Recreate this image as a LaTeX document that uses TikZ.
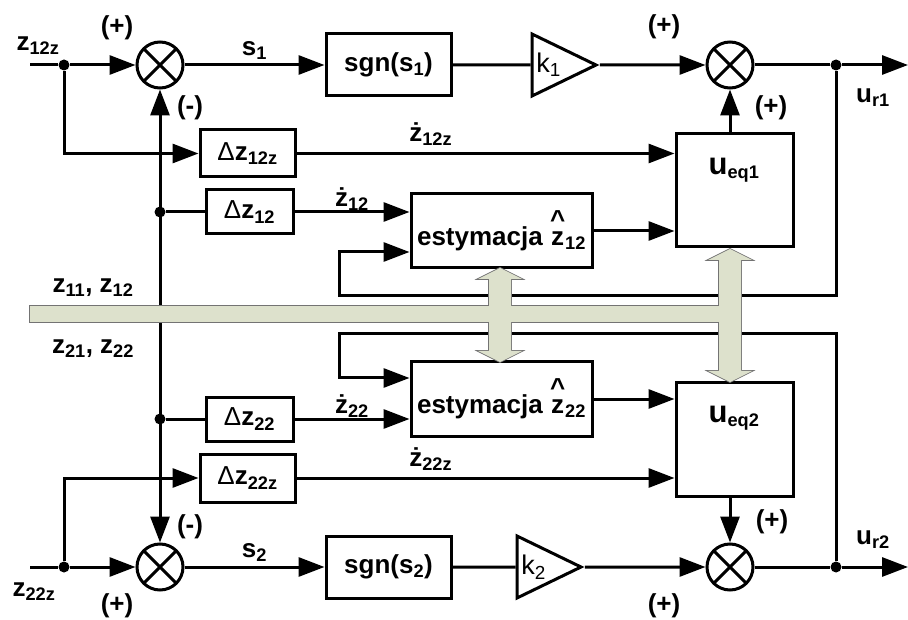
\documentclass[tikz,border=0pt]{standalone}
\usepackage{fontspec}
\setmainfont{Liberation Sans}
\usetikzlibrary{shapes.geometric, positioning, arrows.meta, calc}
\definecolor{busgreen}{HTML}{DDE1CC}
\newcommand{\zhat}{\shortstack{\textasciicircum\\z}}
\tikzset{
  block/.style={rectangle, draw=black, line width=3pt, minimum width=125pt, minimum height=62pt, inner sep=2pt},
  deltabox/.style={rectangle, draw=black, line width=3pt, minimum width=87pt, minimum height=44pt, inner sep=2pt},
  sum/.style={circle, draw=black, line width=3pt, minimum size=46pt, inner sep=0pt,
    path picture={\draw[line width=3pt] (path picture bounding box.north west) -- (path picture bounding box.south east)
      (path picture bounding box.north east) -- (path picture bounding box.south west);}},
  gain/.style={isosceles triangle, isosceles triangle stretches, draw=black, line width=3pt, minimum width=62pt, minimum height=64pt, inner sep=0pt, font=\fontsize{27}{28}\selectfont},
  joint/.style={circle, fill=black, inner sep=0pt, minimum size=11pt},
  arrow/.style={line width=3pt, -{Triangle[length=26pt, width=19pt]}},
  wire/.style={line width=3pt},
  busline/.style={draw=black!55, line width=1.6pt},
  bus/.style={fill=busgreen}
}
\begin{document}
\begin{tikzpicture}[x=1pt, y=-1pt, every node/.style={font=\fontsize{26}{28}\selectfont\bfseries}]
        \useasboundingbox (0,0) rectangle (908,620);
        % upper channel
        \coordinate (in1) at (30,65);
        \node (tap1) [joint] at (64,65) {};
        \node (sum1) [sum] at (160,65) {};
        \node (sgn1) [block, right=140pt of sum1] {sgn(s\textsubscript{1})};
        \node (k1) [gain, right=78pt of sgn1] {k\textsubscript{1}};
        \node (sum3) [sum] at (730,65) {};
        \node (tap3) [joint] at (836,65) {};
        \coordinate (out1) at (908,65);
        \node (dz12z) [deltabox, minimum width=95pt, minimum height=47pt] at (247.5,153.5) {{\mdseries Δ}z\textsubscript{12z}};
        \node (tap2) [joint] at (160,212) {};
        \node (dz12) [deltabox] at (249.5,212) {{\mdseries Δ}z\textsubscript{12}};
        \node (est1) [block, minimum width=181pt, minimum height=74pt] at (501.5,231) {estymacja \zhat\textsubscript{12}};
        \node (ueq1) [block, minimum width=117pt, minimum height=113pt] at (734.5,190.5) {};
        \node (ueq1txt) at (734,170) {{\fontsize{31}{31}\selectfont u}\textsubscript{eq1}};

        % lower channel
        \coordinate (in2) at (30,567);
        \node (tap4) [joint] at (64,567) {};
        \node (sum2) [sum] at (160,567) {};
        \node (sgn2) [block, right=140pt of sum2] {sgn(s\textsubscript{2})};
        \node (k2) [gain, right=63pt of sgn2] {k\textsubscript{2}};
        \node (sum4) [sum] at (730,567) {};
        \node (tap6) [joint] at (836,567) {};
        \coordinate (out2) at (908,567);
        \node (dz22z) [deltabox, minimum width=95pt, minimum height=48pt] at (247.5,478) {{\mdseries Δ}z\textsubscript{22z}};
        \node (tap5) [joint] at (160,419) {};
        \node (dz22) [deltabox] at (249.5,419) {{\mdseries Δ}z\textsubscript{22}};
        \node (est2) [block, minimum width=181pt, minimum height=74pt] at (501.5,399) {estymacja \zhat\textsubscript{22}};
        \node (ueq2) [block, minimum width=117pt, minimum height=113pt] at (734.5,439.5) {};
        \node (ueq2txt) at (734,418) {{\fontsize{31}{31}\selectfont u}\textsubscript{eq2}};

        % signs and signal names
        \node (p1) at (117,28) {(+)};
        \node (m1) at (190,108) {(-)};
        \node (p3) at (664,27) {(+)};
        \node (p4) at (771,108) {(+)};
        \node (m2) at (190,527) {(-)};
        \node (p2) at (117,606) {(+)};
        \node (p6) at (772,522) {(+)};
        \node (p5) at (664,606) {(+)};
        \node (z12ztxt) at (38,46) {z\textsubscript{12z}};
        \node (z22ztxt) at (34,592) {z\textsubscript{22z}};
        \node (z1txt) at (93,288) {z\textsubscript{11}, z\textsubscript{12}};
        \node (z2txt) at (93,349) {z\textsubscript{21}, z\textsubscript{22}};
        \node (ur1txt) at (873,98) {u\textsubscript{r1}};
        \node (ur2txt) at (873,540) {u\textsubscript{r2}};

        \coordinate (busmid) at (160,314);
        \coordinate (fb1) at (339,296);
        \coordinate (fb2) at (339,334);

        \draw [wire] (in1) -- (tap1);
        \draw [arrow] (tap1) -- (sum1);
        \draw [arrow] (sum1) -- node[above=4pt, inner sep=0pt] (s1txt) {s\textsubscript{1}} (sgn1);
        \draw [wire] (sgn1) -- (k1);
        \draw [arrow] (k1) -- (sum3);
        \draw [wire] (sum3) -- (tap3);
        \draw [arrow] (tap3) -- (out1);
        \draw [arrow] (tap1) |- (dz12z);
        \draw [wire] (tap2) -- (dz12);
        \draw [arrow] (dz12z) -- node[above=6pt, inner sep=0pt, pos=0.355] (dz1txt) {ż\textsubscript{12z}} (dz12z -| ueq1.west);
        \draw [arrow] (dz12) -- node[above, inner sep=0pt] (d1txt) {ż\textsubscript{12}} (dz12 -| est1.west);
        \draw [arrow] (est1) -- (est1 -| ueq1.west);
        \draw [arrow] (ueq1.north -| sum3) -- (sum3);
        \draw [arrow] (tap3) |- (fb1) |- ([yshift=-21pt]est1.west);
        \draw [arrow] (busmid) -- (sum1);

        \draw [wire] (in2) -- (tap4);
        \draw [arrow] (tap4) -- (sum2);
        \draw [arrow] (sum2) -- node[above=4pt, inner sep=0pt] (s2txt) {s\textsubscript{2}} (sgn2);
        \draw [wire] (sgn2) -- (k2);
        \draw [arrow] (k2) -- (sum4);
        \draw [wire] (sum4) -- (tap6);
        \draw [arrow] (tap6) -- (out2);
        \draw [arrow] (tap4) |- (dz22z);
        \draw [wire] (tap5) -- (dz22);
        \draw [arrow] (dz22z) -- node[above=6pt, inner sep=0pt, pos=0.355] (dz2txt) {ż\textsubscript{22z}} (dz22z -| ueq2.west);
        \draw [arrow] (dz22) -- node[above, inner sep=0pt] (d2txt) {ż\textsubscript{22}} (dz22 -| est2.west);
        \draw [arrow] (est2) -- (est2 -| ueq2.west);
        \draw [arrow] (ueq2.south -| sum4) -- (sum4);
        \draw [arrow] (tap6) |- (fb2) |- ([yshift=21pt]est2.west);
        \draw [arrow] (busmid) -- (sum2);

        % data bus
        \draw [busline] (30,306) rectangle (730,322);
        \draw [busline] (500,268) -- (522,279) -- (511,279) -- (511,351) -- (522,351) -- (500,362) -- (478,351) -- (489,351) -- (489,279) -- (478,279) -- cycle;
        \draw [busline] (730,249) -- (752,260) -- (741,260) -- (741,371) -- (752,371) -- (730,382) -- (708,371) -- (719,371) -- (719,260) -- (708,260) -- cycle;
        \fill [bus] (30,306) rectangle (730,322);
        \fill [bus] (500,268) -- (522,279) -- (511,279) -- (511,351) -- (522,351) -- (500,362) -- (478,351) -- (489,351) -- (489,279) -- (478,279) -- cycle;
        \fill [bus] (730,249) -- (752,260) -- (741,260) -- (741,371) -- (752,371) -- (730,382) -- (708,371) -- (719,371) -- (719,260) -- (708,260) -- cycle;
    \end{tikzpicture}
\end{document}
